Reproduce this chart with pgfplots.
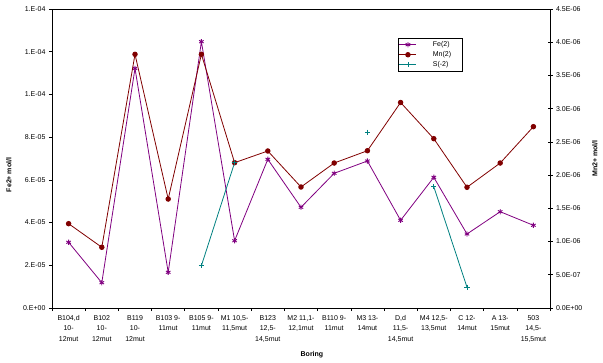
\documentclass[border=0pt]{standalone}
\usepackage{fontspec}
\setmainfont{Liberation Sans}
\usepackage{pgfplots}
\pgfplotsset{compat=1.18}
\definecolor{fecol}{HTML}{800080}
\definecolor{mncol}{HTML}{800000}
\definecolor{scol}{HTML}{008080}
\pgfplotsset{
  festyle/.style={color=fecol, line width=0.8pt, mark=asterisk, mark size=2.6pt, mark options={line width=0.9pt}},
  mnstyle/.style={color=mncol, line width=0.8pt, mark=*, mark size=2.3pt},
  sstyle/.style={color=scol, line width=0.8pt, mark=+, mark size=2.6pt, mark options={line width=0.7pt}},
}
\begin{document}
\begin{tikzpicture}[font=\fontsize{7}{8}\selectfont]
\useasboundingbox (-52pt,-54pt) rectangle (551pt,308pt);
\begin{axis}[
  at={(0,0)}, anchor=south west,
  scale only axis, width=498pt, height=299pt,
  xmin=-0.5, xmax=14.5, ymin=0, ymax=1.4e-4,
  axis line style={line width=0.8pt},
  xtick={0,...,14},
  xticklabels={{B104,d\\10-\\12mut},{B102\\10-\\12mut},{B119\\10-\\12mut},{B103 9-\\11mut},{B105 9-\\11mut},{M1 10,5-\\11,5mut},{B123\\12,5-\\14,5mut},{M2 11,1-\\12,1mut},{B110 9-\\11mut},{M3 13-\\14mut},{D,d\\11,5-\\14,5mut},{M4 12,5-\\13,5mut},{C 12-\\14mut},{A 13-\\15mut},{503\\14,5-\\15,5mut}},
  xticklabel style={align=center, font=\fontsize{7}{10.3}\selectfont, yshift=-1pt},
  major x tick style={draw=none},
  minor xtick={-0.5,0.5,...,14.5},
  minor x tick style={draw=black, line width=0.6pt},
  minor tick length=3pt,
  xtick pos=bottom,
  ytick={0,2e-5,4e-5,6e-5,8e-5,1e-4,1.2e-4,1.4e-4},
  yticklabels={0.E+00,2.E-05,4.E-05,6.E-05,8.E-05,1.E-04,1.E-04,1.E-04},
  scaled y ticks=false,
  ytick pos=left,
  tick align=outside,
  major tick length=3pt,
  y tick style={line width=0.6pt, black},
  ylabel={\textbf{Fe2+ mol/l}},
  ylabel style={at={(axis description cs:-0.074,0.445)}, anchor=south},
  xlabel={\textbf{Boring}},
  xlabel style={at={(axis description cs:0.522,-0.157)}, anchor=center},
  unbounded coords=jump,
]
\addplot[festyle] coordinates {
(0,3.076e-5) (1,1.185e-5) (2,1.122e-4) (3,1.671e-5) (4,1.247e-4)
(5,3.151e-5) (6,6.962e-5) (7,4.715e-5) (8,6.307e-5) (9,6.883e-5)
(10,4.106e-5) (11,6.119e-5) (12,3.465e-5) (13,4.509e-5) (14,3.872e-5)};
\end{axis}
\begin{axis}[
  at={(0,0)}, anchor=south west,
  scale only axis, width=498pt, height=299pt,
  xmin=-0.5, xmax=14.5, ymin=0, ymax=4.5e-6,
  axis x line=none,
  axis y line*=right,
  axis line style={line width=0.8pt, -},
  ytick={0,0.5e-6,1e-6,1.5e-6,2e-6,2.5e-6,3e-6,3.5e-6,4e-6,4.5e-6},
  yticklabels={0.0E+00,5.0E-07,1.0E-06,1.5E-06,2.0E-06,2.5E-06,3.0E-06,3.5E-06,4.0E-06,4.5E-06},
  scaled y ticks=false,
  tick align=center,
  major tick length=5pt,
  y tick style={line width=0.6pt, black},
  ylabel={\textbf{Mn2+ mol/l}},
  ylabel style={at={(axis description cs:1.090,0.5)}, anchor=center, rotate=0},
  unbounded coords=jump,
  legend style={at={(axis description cs:0.694,0.903)}, anchor=north west,
    draw=black, line width=0.8pt, font=\fontsize{7}{8}\selectfont,
    inner sep=1pt, row sep=-0.5pt},
  legend cell align=left,
]
\addlegendimage{festyle}
\addlegendentry{\makebox[41pt][l]{\hspace*{14pt}Fe(2)}}
\addplot[mnstyle] coordinates {
(0,1.269e-6) (1,9.14e-7) (2,3.818e-6) (3,1.640e-6) (4,3.818e-6)
(5,2.187e-6) (6,2.363e-6) (7,1.821e-6) (8,2.182e-6) (9,2.367e-6)
(10,3.093e-6) (11,2.548e-6) (12,1.817e-6) (13,2.182e-6) (14,2.729e-6)};
\addlegendentry{\makebox[41pt][l]{\hspace*{14pt}Mn(2)}}
\addplot[sstyle] coordinates {
(4,6.37e-7) (5,2.187e-6) (6,nan) (9,2.644e-6) (10,nan) (11,1.826e-6) (12,3.12e-7)};
\addlegendentry{\makebox[41pt][l]{\hspace*{14pt}S(-2)}}
\end{axis}
\end{tikzpicture}
\end{document}
